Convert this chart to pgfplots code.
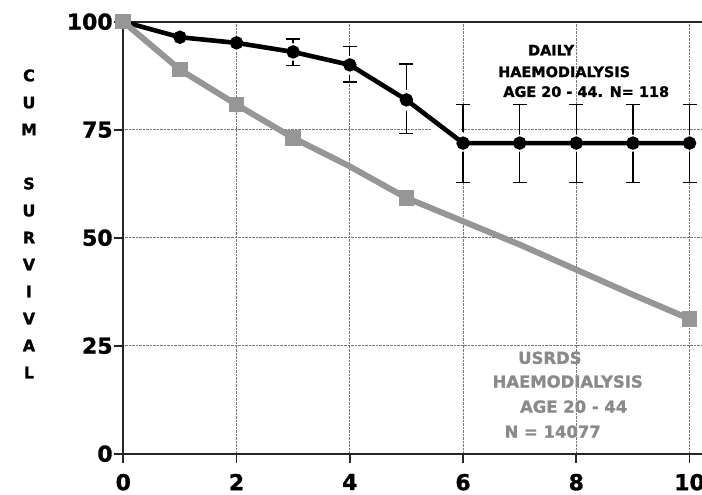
\documentclass[border=0pt]{standalone}
\usepackage{pgfplots}
\usepackage{pgfplotstable}
\pgfplotsset{compat=1.18}
\usepackage{fontspec}
\setmainfont{DejaVu Sans}[BoldFeatures={FakeBold=1.3}]

\definecolor{usrdsgray}{RGB}{150,150,150}
\definecolor{usrdstext}{RGB}{138,138,138}
\definecolor{gridgray}{RGB}{120,120,120}

% Daily haemodialysis, age 20-44 (N = 118): cumulative survival (%)
\pgfplotstableread{
x   y
0   100
1   96.4
2   95.1
3   93.0
4   90.0
5   81.9
6   71.9
7   71.9
8   71.9
9   71.9
10  71.9
}\dailytable

% Confidence limits of the daily group
\pgfplotstableread{
x   y     ep   em
3   93.0  3.0  3.1
4   90.0  4.3  4.0
5   81.9  8.3  7.8
6   71.9  9.0  9.1
7   71.9  9.0  9.1
8   71.9  9.0  9.1
9   71.9  9.0  9.1
10  71.9  9.0  9.1
}\dailybars

% USRDS haemodialysis, age 20-44 (N = 14077)
\pgfplotstableread{
x   y
0   100
1   88.9
2   80.8
3   73.1
4   66.5
5   59.2
6   53.8
7   48.4
8   42.6
9   36.8
10  31.2
}\usrdstable

\begin{document}
\begin{tikzpicture}
\begin{axis}[
  scale only axis,
  width=578.7bp, height=432bp,
  xmin=0, xmax=10.22, ymin=0, ymax=100,
  axis x line=bottom, axis y line=left,
  axis line style={-, line width=2.2bp, black!85},
  xtick={0,2,4,6,8,10}, ytick={0,25,50,75,100},
  tick align=outside, major tick length=9bp,
  tick style={line width=1.8bp, black!85},
  grid=major,
  major grid style={densely dotted, gridgray, line width=0.9bp},
  extra y ticks={100}, extra y tick labels={},
  extra y tick style={grid=major, major grid style={solid, line width=2.2bp, black!85}},
  /pgf/number format/assume math mode=true,
  ticklabel style={font=\bfseries\fontsize{22}{22}\selectfont},
  yticklabel style={inner xsep=1.5bp},
  xticklabel style={inner ysep=2bp, yshift=-9bp},
  clip=false,
  every axis y label/.style={at={(axis description cs:-0.163,0.532)}, anchor=center,
    align=center, font=\bfseries\fontsize{16}{27.1}\selectfont},
  ylabel={C\\U\\M\\[27.1bp]S\\U\\R\\V\\I\\V\\A\\L},
]
% confidence limits, line drawn thin and hidden under the halo
\addplot[black, line width=1bp, mark=none, forget plot,
  error bars/.cd, y dir=both, y explicit,
  error bar style={line width=1.4bp, black},
  error mark options={rotate=90, mark size=7bp, line width=1.4bp, black}]
  table[x=x, y=y, y error plus=ep, y error minus=em] {\dailybars};
% white halo keeps the limits clear of the curve
\addplot[white, line width=17bp, mark=none, forget plot]
  table[x=x, y=y, skip coords between index={0}{2}] {\dailytable};
% daily haemodialysis curve
\addplot[black, line width=4.6bp, mark=*, mark size=4.3bp,
  mark options={solid, fill=black}]
  table[x=x, y=y] {\dailytable};
% USRDS curve
\addplot[usrdsgray, line width=6bp, mark=square*, mark size=4.8bp,
  mark indices={1,2,3,4,6,11}, mark options={solid, fill=usrdsgray}]
  table[x=x, y=y] {\usrdstable};

% series captions
\begin{scope}[font=\bfseries\fontsize{14.5}{14.5}\selectfont]
\node at (axis cs:7.556,93.4) {DAILY};
\node at (axis cs:7.786,88.4) {HAEMODIALYSIS};
\node at (axis cs:8.175,83.8) {AGE 20 - 44. N= 118};
\end{scope}
\begin{scope}[font=\bfseries\fontsize{16.5}{16.5}\selectfont, text=usrdstext]
\node at (axis cs:7.534,22.2) {USRDS};
\node at (axis cs:7.848,16.7) {HAEMODIALYSIS};
\node at (axis cs:7.954,10.9) {AGE 20 - 44};
\node at (axis cs:7.583,5.1) {N = 14077};
\end{scope}
\end{axis}
\pgfresetboundingbox
\path[use as bounding box]
  ([shift={(-123.3bp,-41.3bp)}]current axis.south west) rectangle
  ([shift={(578.7bp,453.7bp)}]current axis.south west);
\end{tikzpicture}
\end{document}
